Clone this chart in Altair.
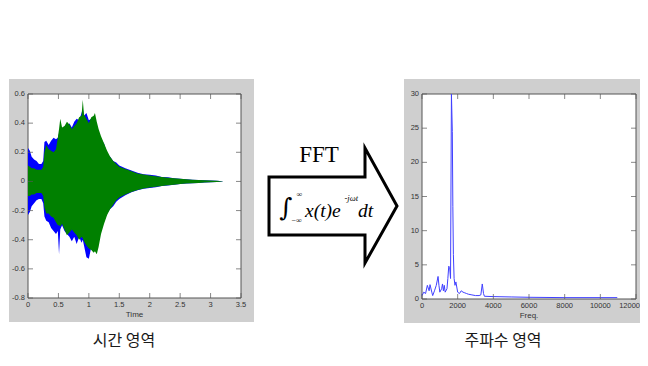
import altair as alt
import pandas as pd

# ---------------- data ----------------
# time-domain waveform envelopes (two channels: blue, green)
t = [0, 0.03, 0.06, 0.1, 0.14, 0.18, 0.22, 0.25, 0.27, 0.3,
     0.34, 0.38, 0.42, 0.46, 0.49, 0.51, 0.53, 0.56, 0.6, 0.64,
     0.68, 0.72, 0.76, 0.8, 0.84, 0.88, 0.9, 0.92, 0.96, 1.0,
     1.04, 1.08, 1.1, 1.13, 1.16, 1.2, 1.25, 1.3, 1.35, 1.4,
     1.45, 1.5, 1.6, 1.7, 1.8, 1.9, 2.0, 2.1, 2.2, 2.3,
     2.4, 2.5, 2.6, 2.7, 2.8, 2.9, 3.0, 3.1, 3.2]
blue_hi = [0.23, 0.21, 0.17, 0.15, 0.14, 0.12, 0.12, 0.14, 0.27, 0.28,
           0.25, 0.28, 0.30, 0.29, 0.30, 0.33, 0.35, 0.34, 0.38, 0.36,
           0.40, 0.37, 0.41, 0.43, 0.42, 0.47, 0.50, 0.45, 0.47, 0.42,
           0.43, 0.40, 0.42, 0.37, 0.33, 0.29, 0.26, 0.19, 0.17, 0.14,
           0.13, 0.11, 0.09, 0.075, 0.06, 0.05, 0.045, 0.04, 0.03, 0.028,
           0.022, 0.018, 0.015, 0.012, 0.01, 0.008, 0.006, 0.004, 0.001]
blue_lo = [-0.23, -0.21, -0.17, -0.15, -0.13, -0.12, -0.12, -0.15, -0.24, -0.27,
           -0.28, -0.32, -0.34, -0.36, -0.34, -0.50, -0.33, -0.30, -0.34, -0.36,
           -0.38, -0.41, -0.38, -0.43, -0.38, -0.42, -0.40, -0.44, -0.52, -0.53,
           -0.45, -0.43, -0.42, -0.38, -0.36, -0.31, -0.27, -0.22, -0.19, -0.17,
           -0.14, -0.12, -0.095, -0.075, -0.06, -0.05, -0.045, -0.04, -0.032, -0.028,
           -0.022, -0.018, -0.015, -0.012, -0.01, -0.008, -0.006, -0.004, -0.001]
green_hi = [0.11, 0.10, 0.09, 0.09, 0.08, 0.08, 0.08, 0.10, 0.20, 0.25,
            0.22, 0.21, 0.20, 0.22, 0.30, 0.36, 0.43, 0.37, 0.38, 0.41,
            0.39, 0.36, 0.38, 0.40, 0.44, 0.45, 0.56, 0.46, 0.43, 0.40,
            0.44, 0.45, 0.47, 0.41, 0.36, 0.31, 0.26, 0.21, 0.17, 0.14,
            0.12, 0.10, 0.085, 0.07, 0.055, 0.047, 0.04, 0.036, 0.03, 0.026,
            0.021, 0.018, 0.015, 0.012, 0.01, 0.008, 0.006, 0.004, 0.001]
green_lo = [-0.10, -0.10, -0.09, -0.09, -0.08, -0.08, -0.08, -0.10, -0.18, -0.22,
            -0.22, -0.24, -0.25, -0.28, -0.30, -0.30, -0.31, -0.29, -0.33, -0.37,
            -0.35, -0.33, -0.35, -0.37, -0.40, -0.38, -0.39, -0.41, -0.44, -0.46,
            -0.47, -0.49, -0.48, -0.50, -0.45, -0.36, -0.29, -0.23, -0.19, -0.16,
            -0.13, -0.11, -0.09, -0.072, -0.058, -0.048, -0.042, -0.037, -0.031, -0.027,
            -0.022, -0.018, -0.015, -0.012, -0.01, -0.008, -0.006, -0.004, -0.001]

# frequency-domain magnitude
freq = [0, 100, 200, 300, 400, 450, 550, 600, 700, 800,
        900, 950, 1000, 1100, 1150, 1200, 1250, 1300, 1400, 1450,
        1500, 1550, 1600, 1650, 1700, 1730, 1760, 1800, 1850, 1900,
        2000, 2100, 2200, 2300, 2400, 2500, 2600, 2800, 3000, 3200,
        3300, 3380, 3450, 3500, 4000, 5000, 6000, 8000, 10000, 10950]
mag = [0.5, 1.0, 0.8, 2.0, 1.2, 2.1, 1.0, 0.5, 1.2, 2.0,
       3.3, 2.0, 1.0, 1.5, 2.2, 1.2, 2.0, 1.0, 1.5, 3.0,
       4.8, 4.6, 3.0, 33.0, 24.5, 13.5, 6.5, 3.0, 2.0, 2.5,
       1.0, 0.8, 1.2, 1.0, 0.9, 0.8, 0.7, 0.6, 0.5, 0.5,
       0.6, 2.2, 0.8, 0.4, 0.35, 0.3, 0.25, 0.2, 0.2, 0.2]

time_ticks = [0, 0.5, 1, 1.5, 2, 2.5, 3, 3.5]
time_labels = ["0", "0.5", "1", "1.5", "2", "2.5", "3", "3.5"]
amp_ticks = [-0.8, -0.6, -0.4, -0.2, 0, 0.2, 0.4, 0.6]
amp_labels = ["-0.8", "-0.6", "-0.4", "-0.2", "0", "0.2", "0.4", "0.6"]
freq_ticks = [0, 2000, 4000, 6000, 8000, 10000, 12000]
freq_labels = ["0", "2000", "4000", "6000", "8000", "10000", "12000"]
mag_ticks = [0, 5, 10, 15, 20, 25, 30]
mag_labels = ["0", "5", "10", "15", "20", "25", "30"]

# arrow outline (canvas units)
arrow_x = [261, 357, 357, 389, 357, 357, 261, 261, 357]
arrow_y = [169, 169, 140, 198, 255, 227, 227, 169, 169]

# ---------------- layout ----------------
W, H = 632, 350
GREY = "#cfcfcf"
AX = "#555555"
LAB = "#333333"


def sc(d, r, **kw):
    return alt.Scale(domain=d, range=r, zero=False, nice=False, **kw)


LX = sc([0, 3.5], [20, 233])
LY = sc([-0.8, 0.6], [290, 86])
RX = sc([0, 12000], [414, 628])
RY = sc([0, 30], [291, 86], clamp=True)
CX = sc([0, W], [0, W])
CY = sc([0, H], [0, H])

one = pd.DataFrame({"k": [0]})


def box(xs, ys, x0, x1, y0, y1, **kw):
    return alt.Chart(one).mark_rect(**kw).encode(
        x=alt.XDatum(x0, scale=xs, axis=None), x2=alt.X2Datum(x1),
        y=alt.YDatum(y0, scale=ys, axis=None), y2=alt.Y2Datum(y1))


def txt(xs, ys, x, y, s, **kw):
    return alt.Chart(one).mark_text(**kw).encode(
        x=alt.XDatum(x, scale=xs, axis=None),
        y=alt.YDatum(y, scale=ys, axis=None),
        text=alt.value(s))


def axes(xs, ys, xd, yd, xt, xl, yt, yl, title, last_right=False):
    x0, x1 = xd
    y0, y1 = yd
    dx = pd.DataFrame({"v": xt, "l": xl})
    dy = pd.DataFrame({"v": yt, "l": yl})
    tk = dict(thickness=1, size=5, color=AX)
    lab = dict(fontSize=7.5, color=LAB, font="Liberation Sans")
    dxm = dx.iloc[:-1] if last_right else dx
    out = [
        alt.Chart(dx).mark_tick(orient="vertical", yOffset=-2.5, **tk).encode(
            x=alt.X("v:Q", scale=xs, axis=None), y=alt.YDatum(y0, scale=ys, axis=None)),
        alt.Chart(dx).mark_tick(orient="vertical", yOffset=2.5, **tk).encode(
            x=alt.X("v:Q", scale=xs, axis=None), y=alt.YDatum(y1, scale=ys, axis=None)),
        alt.Chart(dy).mark_tick(orient="horizontal", xOffset=2.5, **tk).encode(
            y=alt.Y("v:Q", scale=ys, axis=None), x=alt.XDatum(x0, scale=xs, axis=None)),
        alt.Chart(dy).mark_tick(orient="horizontal", xOffset=-2.5, **tk).encode(
            y=alt.Y("v:Q", scale=ys, axis=None), x=alt.XDatum(x1, scale=xs, axis=None)),
        alt.Chart(dxm).mark_text(baseline="top", dy=3, **lab).encode(
            x=alt.X("v:Q", scale=xs, axis=None), y=alt.YDatum(y0, scale=ys, axis=None),
            text="l:N"),
        alt.Chart(dy).mark_text(baseline="middle", align="right", dx=-3, **lab).encode(
            y=alt.Y("v:Q", scale=ys, axis=None), x=alt.XDatum(x0, scale=xs, axis=None),
            text="l:N"),
        txt(xs, ys, (x0 + x1) / 2, y0, title, fontSize=8, baseline="top", dy=13,
            color=LAB, font="Liberation Sans"),
    ]
    if last_right:
        out.append(alt.Chart(dx.iloc[-1:]).mark_text(
            baseline="top", dy=3, align="right", dx=4, **lab).encode(
            x=alt.X("v:Q", scale=xs, axis=None), y=alt.YDatum(y0, scale=ys, axis=None),
            text="l:N"))
    return out


wave = pd.DataFrame({"t": t, "bh": blue_hi, "bl": blue_lo, "gh": green_hi, "gl": green_lo})
spec = pd.DataFrame({"f": freq, "m": mag})
arrow = pd.DataFrame({"x": arrow_x, "y": arrow_y, "i": list(range(len(arrow_x)))})

layers = [
    box(CX, CY, 1, 246, 71, 314, color=GREY),
    box(CX, CY, 396, 632, 71, 315, color=GREY),
    box(LX, LY, 0, 3.5, -0.8, 0.6, fill="white", stroke=AX, strokeWidth=1),
    box(RX, RY, 0, 12000, 0, 30, fill="white", stroke=AX, strokeWidth=1),
    alt.Chart(wave).mark_area(color="#0000ff").encode(
        x=alt.X("t:Q", scale=LX, axis=None),
        y=alt.Y("bh:Q", scale=LY, axis=None), y2="bl:Q"),
    alt.Chart(wave).mark_area(color="#008000").encode(
        x=alt.X("t:Q", scale=LX, axis=None),
        y=alt.Y("gh:Q", scale=LY, axis=None), y2="gl:Q"),
    alt.Chart(spec).mark_line(color="#4040ff", strokeWidth=1).encode(
        x=alt.X("f:Q", scale=RX, axis=None),
        y=alt.Y("m:Q", scale=RY, axis=None)),
]
layers += axes(LX, LY, (0, 3.5), (-0.8, 0.6), time_ticks, time_labels,
               amp_ticks, amp_labels, "Time")
layers += axes(RX, RY, (0, 12000), (0, 30), freq_ticks, freq_labels,
               mag_ticks, mag_labels, "Freq.", last_right=True)

layers += [
    alt.Chart(arrow).mark_line(color="black", strokeWidth=3, strokeJoin="miter",
                               strokeMiterLimit=10).encode(
        x=alt.X("x:Q", scale=CX, axis=None),
        y=alt.Y("y:Q", scale=CY, axis=None), order="i:Q"),
    txt(CX, CY, 311, 153.5, "FFT", fontSize=23, font="Liberation Serif",
        baseline="alphabetic", color="black"),
    txt(CX, CY, 278, 208, "\u222b", fontSize=25, font="DejaVu Serif",
        baseline="alphabetic", color="black"),
    txt(CX, CY, 288.5, 188.5, "\u221e", fontSize=8, font="Liberation Serif",
        align="left", baseline="alphabetic", color="black"),
    txt(CX, CY, 283.5, 214.5, "\u2212\u221e", fontSize=8, font="Liberation Serif",
        align="left", baseline="alphabetic", color="black"),
    txt(CX, CY, 297, 208.5, "x(t)e", fontSize=19.5, font="Liberation Serif",
        fontStyle="italic", baseline="alphabetic", align="left", color="black"),
    txt(CX, CY, 336.5, 193, "-j\u03c9t", fontSize=8.5, font="Liberation Serif",
        fontStyle="italic", baseline="alphabetic", align="left", color="black"),
    txt(CX, CY, 350, 208.5, "dt", fontSize=19.5, font="Liberation Serif",
        fontStyle="italic", baseline="alphabetic", align="left", color="black"),
    txt(CX, CY, 116, 333, "시간 영역", fontSize=16, font="Noto Sans CJK KR",
        baseline="middle", color="#1a1a1a"),
    txt(CX, CY, 495, 333, "주파수 영역", fontSize=16, font="Noto Sans CJK KR",
        baseline="middle", color="#1a1a1a"),
]

chart = alt.layer(*layers).resolve_scale(x="independent", y="independent").properties(
    width=W, height=H, padding=0, background="white",
    autosize=alt.AutoSizeParams(type="none"),
).configure_view(stroke=None)

chart.save("out.html", embed_options={"renderer": "svg", "actions": False})
